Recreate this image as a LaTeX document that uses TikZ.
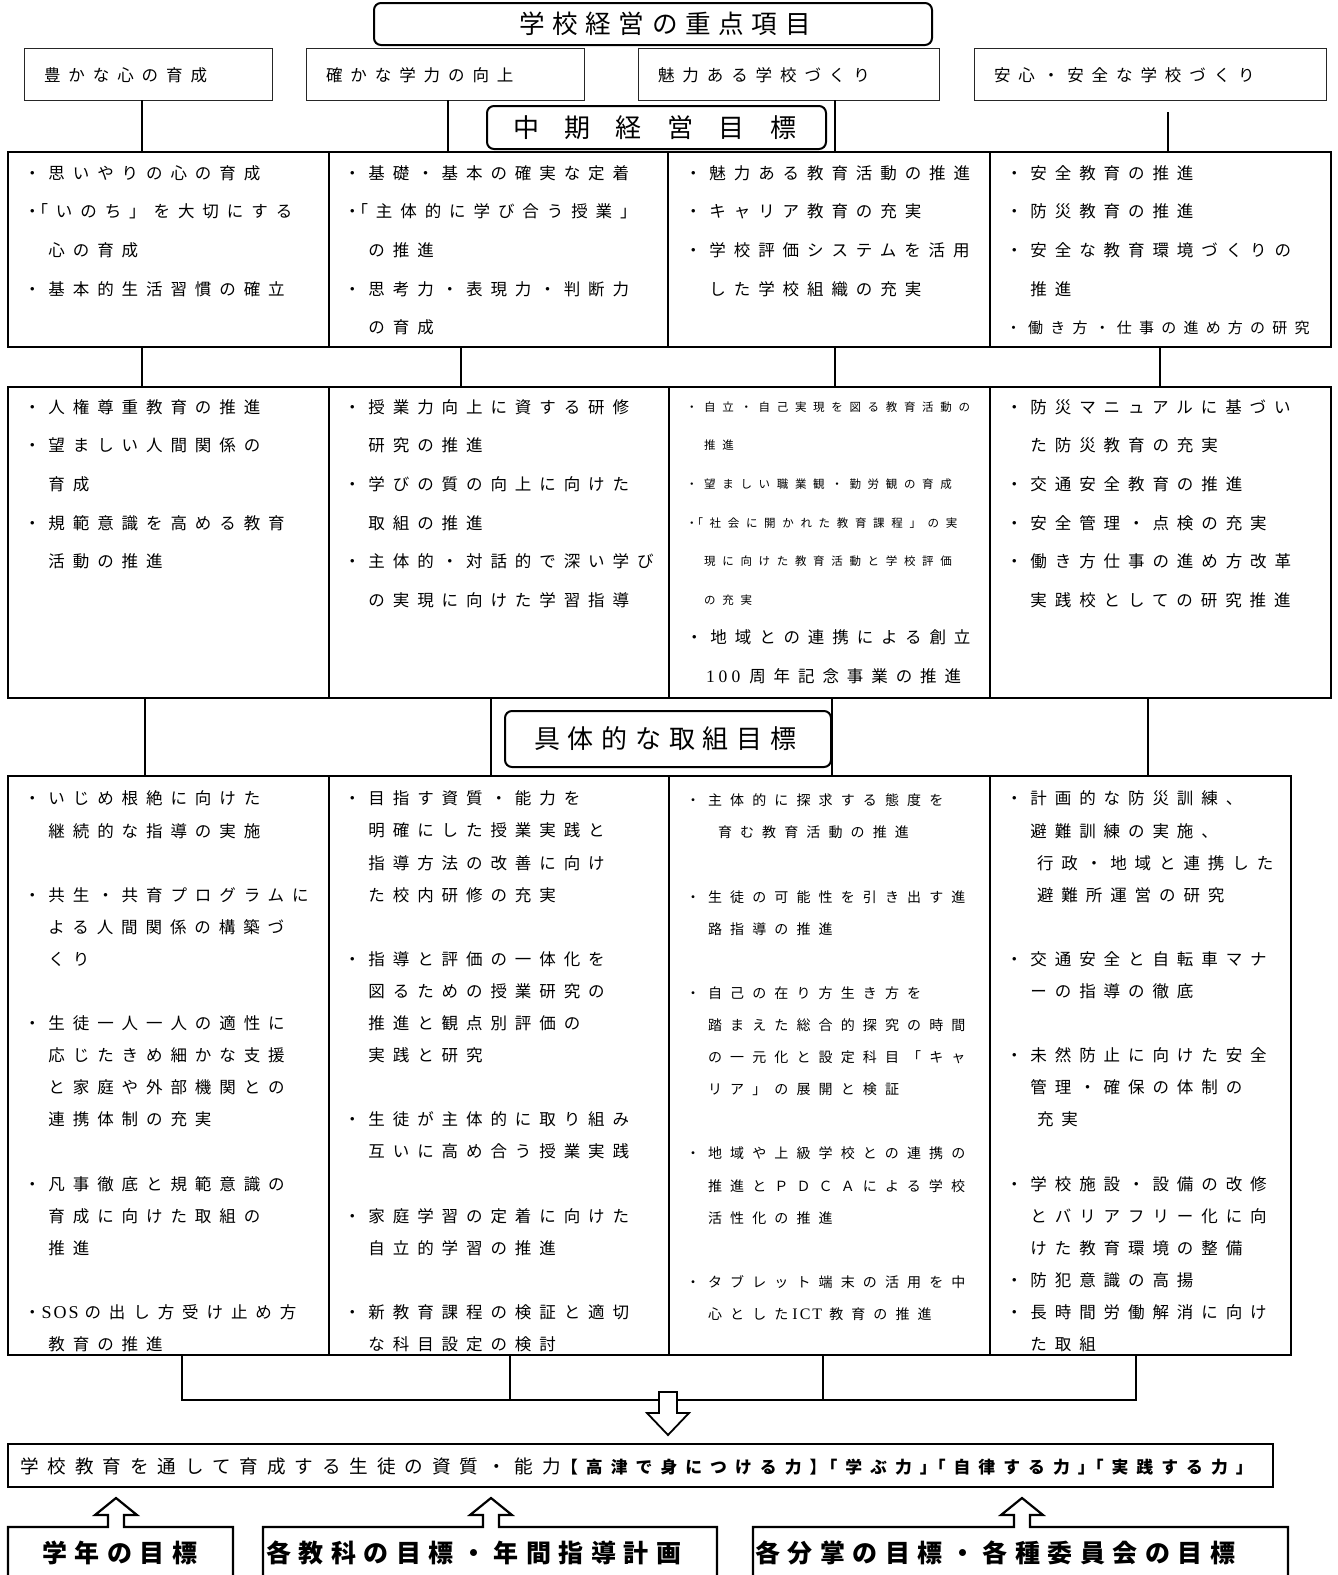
\documentclass[tikz,border=0pt]{standalone}
\usepackage{fontspec}
\setmainfont{Noto Sans CJK JP}
\newfontfamily\jB[LetterSpace=48]{Noto Sans CJK JP}
\newfontfamily\jS[LetterSpace=58]{Noto Sans CJK JP}
\newfontfamily\jT[LetterSpace=30]{Noto Sans CJK JP}
\newfontfamily\jM[LetterSpace=98]{Noto Sans CJK JP}
\newfontfamily\latf{Liberation Serif}
\newcommand{\myfs}[2]{\fontsize{#1}{#2}\selectfont}
\newcommand{\upbox}[3]{\draw[botst] (#1,1590) -- (#1,1527) -- ({#3-8},1527) -- ({#3-8},1515) -- ({#3-21},1515) -- (#3,1498) -- ({#3+21},1515) -- ({#3+8},1515) -- ({#3+8},1527) -- (#2,1527) -- (#2,1590);}
\begin{document}
\begin{tikzpicture}[x=1pt,y=-1pt,
  every node/.style={inner sep=0pt, outer sep=0pt},
  hdr/.style={draw, line width=2pt, rounded corners=7pt, anchor=north west},
  tbox/.style={draw=black!85, line width=1pt, anchor=north west},
  rowbox/.style={draw, line width=2pt, anchor=north west},
  divline/.style={line width=1.3pt},
  conn/.style={line width=1.8pt},
  bus/.style={line width=1.5pt},
  arrowst/.style={draw, fill=white, line width=1.8pt, line join=miter},
  botst/.style={draw, line width=2.2pt, line join=miter},
  cellA/.style={anchor=north west, align=left, font=\jB\myfs{16.5}{38.7}},
  cellC/.style={anchor=north west, align=left, font=\jB\myfs{16.5}{32.1}},
  lbl/.style={anchor=west},
]
\useasboundingbox (0,0) rectangle (1338,1575);

% header
\node[hdr, minimum width=558pt, minimum height=42pt] (title) at (374,3) {};
\node[lbl, font=\jT\myfs{25.6}{30}] (titleT) at (519,24) {学校経営の重点項目};

% row 1 boxes
\node[tbox, minimum width=248pt, minimum height=52pt] (b1) at (24,48) {};
\node[lbl, font=\jB\myfs{16.5}{20}] (t1) at (44,75) {豊かな心の育成};
\node[tbox, minimum width=278pt, minimum height=52pt] (b2) at (306,48) {};
\node[lbl, font=\jB\myfs{16.5}{20}] (t2) at (326,75) {確かな学力の向上};
\node[tbox, minimum width=301pt, minimum height=52pt] (b3) at (638,48) {};
\node[lbl, font=\jB\myfs{16.5}{20}] (t3) at (658,75) {魅力ある学校づくり};
\node[tbox, minimum width=352pt, minimum height=52pt] (b4) at (974,48) {};
\node[lbl, font=\jB\myfs{16.5}{20}] (t4) at (994,75) {安心・安全な学校づくり};

% mid-term header
\node[hdr, minimum width=339pt, minimum height=43pt] (mid) at (487,106) {};
\node[lbl, font=\jM\myfs{26}{30}] (midT) at (513,128) {中期経営目標};

% row A
\node[rowbox, minimum width=1323pt, minimum height=195pt] (A) at (8,152) {};
\draw[divline] (329,0 |- A.north) -- (329,0 |- A.south);
\draw[divline] (668,0 |- A.north) -- (668,0 |- A.south);
\draw[divline] (990,0 |- A.north) -- (990,0 |- A.south);

\coordinate (c4) at (1168,112);
\draw[conn] (142,0 |- b1.south) -- (142,0 |- A.north);
\draw[conn] (448,0 |- b2.south) -- (448,0 |- A.north);
\draw[conn] (835,0 |- b3.south) -- (835,0 |- A.north);
\draw[conn] (c4) -- (1168,0 |- A.north);

\node[cellA] (A1) at (24,165.2) {・思いやりの心の育成\\・\kern-9pt「いのち」を大切にする\\　心の育成\\・基本的生活習慣の確立};
\node[cellA] (A2) at (344,165.2) {・基礎・基本の確実な定着\\・\kern-9pt「主体的に学び合う授業」\\　の推進\\・思考力・表現力・判断力\\　の育成};
\node[cellA] (A3) at (685,165.2) {・魅力ある教育活動の推進\\・キャリア教育の充実\\・学校評価システムを活用\\　した学校組織の充実};
\node[cellA] (A4) at (1006,165.2) {・安全教育の推進\\・防災教育の推進\\・安全な教育環境づくりの\\　推進\\{\myfs{15}{38.7}・働き方・仕事の進め方の研究}};

% row B
\node[rowbox, minimum width=1323pt, minimum height=311pt] (B) at (8,387) {};
\draw[divline] (329,0 |- B.north) -- (329,0 |- B.south);
\draw[divline] (669,0 |- B.north) -- (669,0 |- B.south);
\draw[divline] (990,0 |- B.north) -- (990,0 |- B.south);

\draw[conn] (142,0 |- A.south) -- (142,0 |- B.north);
\draw[conn] (461,0 |- A.south) -- (461,0 |- B.north);
\draw[conn] (835,0 |- A.south) -- (835,0 |- B.north);
\draw[conn] (1160,0 |- A.south) -- (1160,0 |- B.north);

\node[cellA] (B1) at (24,399.2) {・人権尊重教育の推進\\・望ましい人間関係の\\　育成\\・規範意識を高める教育\\　活動の推進};
\node[cellA] (B2) at (344,399.2) {・授業力向上に資する研修\\　研究の推進\\・学びの質の向上に向けた\\　取組の推進\\・主体的・対話的で深い学び\\　の実現に向けた学習指導};
\node[cellA] (B3) at (686,401.5) {{\jS\myfs{11.5}{38.7}・自立・自己実現を図る教育活動の}\\{\jS\myfs{11.5}{38.7}　推進}\\{\jS\myfs{11.5}{38.7}・望ましい職業観・勤労観の育成}\\{\jS\myfs{11.5}{38.7}・\kern-6pt「社会に開かれた教育課程」の実}\\{\jS\myfs{11.5}{38.7}　現に向けた教育活動と学校評価}\\{\jS\myfs{11.5}{38.7}　の充実}\\・地域との連携による創立\\\hbox to 20pt{}{\latf\myfs{17.5}{38.7}1\kern4pt 0\kern4pt 0}\kern9pt 周年記念事業の推進};
\node[cellA] (B4) at (1006,399.2) {・防災マニュアルに基づい\\　た防災教育の充実\\・交通安全教育の推進\\・安全管理・点検の充実\\・働き方仕事の進め方改革\\　実践校としての研究推進};

% concrete goals header
\node[hdr, minimum width=326pt, minimum height=56pt] (gut) at (505,711) {};
\node[lbl, font=\jT\myfs{26}{30}] (gutT) at (534,739) {具体的な取組目標};

% row C
\node[rowbox, minimum width=1283pt, minimum height=579pt] (C) at (8,776) {};
\draw[divline] (329,0 |- C.north) -- (329,0 |- C.south);
\draw[divline] (669,0 |- C.north) -- (669,0 |- C.south);
\draw[divline] (990,0 |- C.north) -- (990,0 |- C.south);

\draw[conn] (145,0 |- B.south) -- (145,0 |- C.north);
\draw[conn] (491,0 |- B.south) -- (491,0 |- C.north);
\draw[conn] (832,0 |- B.south) -- (832,0 |- C.north);
\draw[conn] (1148,0 |- B.south) -- (1148,0 |- C.north);

\node[cellC] (C1) at (24,791) {・いじめ根絶に向けた\\　継続的な指導の実施\\~\\・共生・共育プログラムに\\　よる人間関係の構築づ\\　くり\\~\\・生徒一人一人の適性に\\　応じたきめ細かな支援\\　と家庭や外部機関との\\　連携体制の充実\\~\\・凡事徹底と規範意識の\\　育成に向けた取組の\\　推進\\~\\・\kern1pt{\latf\myfs{18}{32.1}S\kern2pt O\kern2pt S}\kern6pt の出し方受け止め方\\　教育の推進};
\node[cellC] (C2) at (344,791) {・目指す資質・能力を\\　明確にした授業実践と\\　指導方法の改善に向け\\　た校内研修の充実\\~\\・指導と評価の一体化を\\　図るための授業研究の\\　推進と観点別評価の\\　実践と研究\\~\\・生徒が主体的に取り組み\\　互いに高め合う授業実践\\~\\・家庭学習の定着に向けた\\　自立的学習の推進\\~\\・新教育課程の検証と適切\\　な科目設定の検討};
\node[cellC, font=\jS\myfs{14}{32.1}] (C3) at (686,794) {・主体的に探求する態度を\\\hbox to 32pt{}育む教育活動の推進\\~\\・生徒の可能性を引き出す進\\　路指導の推進\\~\\・自己の在り方生き方を\\　踏まえた総合的探究の時間\\　の一元化と設定科目「キャ\\　リア」の展開と検証\\~\\・地域や上級学校との連携の\\　推進とＰＤＣＡによる学校\\　活性化の推進\\~\\・タブレット端末の活用を中\\　心とした\kern4pt{\latf\myfs{16}{32.1}I\kern2pt C\kern2pt T}\kern7pt 教育の推進};
\node[cellC] (C4) at (1006,791) {・計画的な防災訓練、\\　避難訓練の実施、\\\hbox to 31pt{}行政・地域と連携した\\\hbox to 31pt{}避難所運営の研究\\~\\・交通安全と自転車マナ\\　ーの指導の徹底\\~\\・未然防止に向けた安全\\　管理・確保の体制の\\\hbox to 31pt{}充実\\~\\・学校施設・設備の改修\\　とバリアフリー化に向\\　けた教育環境の整備\\・防犯意識の高揚\\・長時間労働解消に向け\\　た取組};

% bus
\coordinate (busY) at (0,1400);
\draw[bus] (182,0 |- C.south) |- (1136,0 |- busY) -- (1136,0 |- C.south);
\draw[bus] (510,0 |- C.south) -- (510,0 |- busY);
\draw[bus] (823,0 |- C.south) -- (823,0 |- busY);

% down arrow
\coordinate (da) at (668,1392);
\draw[arrowst] (da) ++(-9,0) -- ++(18,0) -- ++(0,21) -- ++(12,0) -- ++(-21,22) -- ++(-21,-22) -- ++(12,0) -- cycle;

% main result box
\node[rowbox, line width=1.8pt, minimum width=1265pt, minimum height=43pt] (M) at (8,1444) {};
\node[lbl] (MT) at (20,1466) {{\jB\myfs{18.6}{20}学校教育を通して育成する生徒の資質・能力}{\jB\bfseries\myfs{16.8}{20}【高津で身につける力】\kern-6pt「学ぶ力」\kern-8pt「自律する力」\kern-8pt「実践する力」}};

% bottom boxes with up arrows
\upbox{8}{233}{116}
\upbox{263}{717}{491}
\upbox{753}{1288}{1022}
\node[lbl, font=\jT\bfseries\myfs{25}{30}] (g1) at (42,1553) {学年の目標};
\node[lbl, font=\jT\bfseries\myfs{25}{30}] (g2) at (266,1553) {各教科の目標・年間指導計画};
\node[lbl, font=\jT\bfseries\myfs{25}{30}] (g3) at (755,1553) {各分掌の目標・各種委員会の目標};
\end{tikzpicture}
\end{document}
